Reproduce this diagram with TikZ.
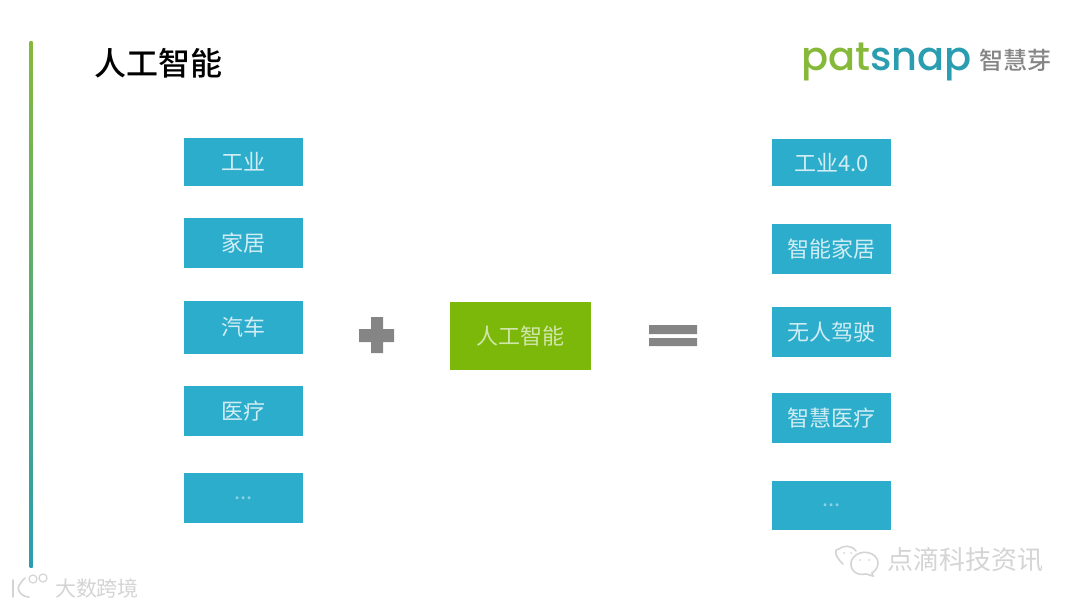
\documentclass[tikz,border=0pt]{standalone}
\usepackage{fontspec}
\setmainfont{Noto Sans CJK SC}
\newfontfamily\titlefont{Noto Sans CJK SC Medium}
\newfontfamily\logofont{Poppins Medium}
\usepackage{xcolor}
\definecolor{boxblue}{HTML}{2DADCC}
\definecolor{boxgreen}{HTML}{7CB80A}
\definecolor{logogreen}{HTML}{86B93A}
\definecolor{logoblue}{HTML}{2A9DB0}
\definecolor{signgray}{HTML}{858585}
\definecolor{markgray}{HTML}{D4D4D4}
\tikzset{
  bluebox/.style={fill=boxblue,text=white!78!boxblue,minimum width=119pt,inner sep=0pt,outer sep=0pt,font=\fontsize{22}{22}\selectfont},
  greenbox/.style={fill=boxgreen,text=boxgreen!35!white,minimum width=141pt,minimum height=68pt,inner sep=0pt,outer sep=0pt,font=\fontsize{22}{22}\selectfont},
  signbar/.style={fill=signgray},
  markline/.style={draw=markgray,line width=1.6pt,line cap=round},
}
\begin{document}
\begin{tikzpicture}[x=1pt,y=-1pt]
  \useasboundingbox (0,0) rectangle (1080,608);
  % side line and title
  \shade[top color=logogreen,bottom color=logoblue] (29.5,41) rectangle (32.5,567);
  \node[inner sep=0pt,font=\titlefont\fontsize{32}{32}\selectfont] (title) at (158,63) {人工智能};
  % logo
  \node[inner sep=0pt,anchor=base west,font=\logofont\fontsize{40}{40}\selectfont] (logo) at (801,70) {\textcolor{logogreen}{pat}\textcolor{logoblue}{snap}};
  \node[inner sep=0pt,text=signgray,font=\titlefont\fontsize{24}{24}\selectfont] (logocn) at (1015,60) {智慧芽};
  % left column
  \node[bluebox,minimum height=48pt] (gongye) at (243.5,162) {工业};
  \node[bluebox,minimum height=50pt] (jiaju) at (243.5,243) {家居};
  \node[bluebox,minimum height=53pt] (qiche) at (243.5,327.5) {汽车};
  \node[bluebox,minimum height=50pt] (yiliao) at (243.5,411) {医疗};
  \node[bluebox,minimum height=50pt,text=white!45!boxblue] (more) at (243.5,498) {...};
  % middle
  \fill[signbar] (359,329) rectangle (371,342) (371,317) rectangle (383,353) (383,329) rectangle (394,342);
  \node[greenbox] (ai) at (520.5,336) {人工智能};
  \fill[signbar] (649,325) rectangle (697,334) (649,338) rectangle (697,346);
  % right column
  \node[bluebox,minimum height=47pt] (gongye4) at (831.5,162.5) {工业4.0};
  \node[bluebox,minimum height=50pt] (jiajuai) at (831.5,249) {智能家居};
  \node[bluebox,minimum height=50pt] (wuren) at (831.5,332) {无人驾驶};
  \node[bluebox,minimum height=50pt] (yiliaoai) at (831.5,418) {智慧医疗};
  \node[bluebox,minimum height=49pt,text=white!45!boxblue] (morer) at (831.5,505.5) {...};
  % watermarks
  \draw[markline] (843,564) .. controls (834,556) and (834,548) .. (839,549) .. controls (843,545) and (852,545) .. (856,551);
  \draw[markline] (866,574) .. controls (852,577) and (848,564) .. (853,558) .. controls (860,548) and (878,552) .. (878,563) .. controls (878,568) and (875,571) .. (872,573) -- (873,576) -- cycle;
  \fill[markgray] (844,553) circle (1pt) (851,553) circle (1pt) (860,560) circle (1pt) (869,560) circle (1pt);
  \node[inner sep=0pt,text=markgray,font=\fontsize{26}{26}\selectfont] (dianti) at (965,560) {点滴科技资讯};
  \draw[markline] (13,580) -- (13,597);
  \draw[markline] (25,578) .. controls (19,584) and (17,588) .. (19,591) .. controls (21,595) and (25,597) .. (29,597);
  \draw[markline,line width=1.2pt] (33,579) circle (4pt) (43,578) circle (4pt);
  \node[inner sep=0pt,text=markgray,font=\fontsize{21}{21}\selectfont] (dashu) at (97,588) {大数跨境};
\end{tikzpicture}
\end{document}
